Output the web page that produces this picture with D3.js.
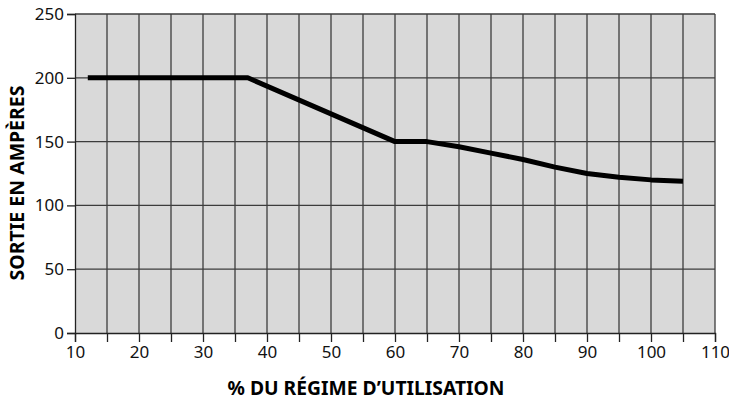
<!DOCTYPE html>
<html>
<head>
    <meta charset="utf-8" />
    <title>Sortie en ampères</title>
    <script src="https://cdn.jsdelivr.net/npm/d3@7"></script>
    <style>
        body { margin: 0; background: #fff; }
        svg { display: block; }
        .tick text { font-family: "Noto Sans", sans-serif; font-size: 17px; fill: #111; }
        .title { font-family: "Noto Sans", sans-serif; font-weight: bold; font-size: 20px; fill: #000; }
    </style>
</head>
<body>
<svg id="CHART" width="729" height="411"></svg>
<script>
    // values
    var pctUse = [12, 37, 60, 65, 70, 75, 80, 85, 90, 95, 100, 105];
    var amps   = [200, 200, 150, 150, 146, 141, 136, 130, 125, 122, 120, 119];
    var xTicks = [10, 20, 30, 40, 50, 60, 70, 80, 90, 100, 110];
    var yTicks = [0, 50, 100, 150, 200, 250];

    var L = 75, R = 715, T = 14, B = 333;
    var svg = d3.select("#CHART");

    var x = d3.scaleLinear().domain([10, 110]).range([L, R]);
    var y = d3.scaleLinear().domain([0, 250]).range([B, T]);

    svg.append("rect")
        .attr("x", L).attr("y", T)
        .attr("width", R - L).attr("height", B - T)
        .attr("fill", "#d9d9d9");

    // grid: every 5 % and every 50 A
    var g = svg.append("g").attr("stroke", "#3c3c3c").attr("stroke-width", 1.3);
    g.selectAll("line.v").data(d3.range(15, 115, 5)).enter().append("line")
        .attr("x1", function (d) { return x(d); }).attr("x2", function (d) { return x(d); })
        .attr("y1", T).attr("y2", B);
    g.selectAll("line.h").data(yTicks.slice(1)).enter().append("line")
        .attr("x1", L).attr("x2", R)
        .attr("y1", function (d) { return y(d); }).attr("y2", function (d) { return y(d); });

    // axes
    var xAxis = d3.axisBottom(x).tickValues(d3.range(10, 115, 5)).tickSize(9).tickPadding(4)
        .tickFormat(function (d) { return xTicks.indexOf(d) >= 0 ? d : ""; });
    var yAxis = d3.axisLeft(y).tickValues(yTicks).tickSize(8).tickPadding(3);

    var gx = svg.append("g").attr("transform", "translate(0," + B + ")").call(xAxis);
    var gy = svg.append("g").attr("transform", "translate(" + L + ",0)").call(yAxis);
    [gx, gy].forEach(function (a) {
        a.select(".domain").attr("stroke", "#222").attr("stroke-width", 1.3);
        a.selectAll(".tick line").attr("stroke", "#222").attr("stroke-width", 1.3);
        a.selectAll(".tick text").attr("font-family", null).attr("font-size", null);
    });

    // curve
    var line = d3.line()
        .x(function (d, i) { return x(pctUse[i]); })
        .y(function (d) { return y(d); });
    svg.append("path")
        .datum(amps)
        .attr("d", line)
        .attr("fill", "none")
        .attr("stroke", "#000")
        .attr("stroke-width", 5)
        .attr("stroke-linejoin", "round");

    // titles
    svg.append("text").attr("class", "title")
        .attr("x", 366).attr("y", 395)
        .attr("text-anchor", "middle")
        .attr("textLength", 277).attr("lengthAdjust", "spacingAndGlyphs")
        .text("% DU RÉGIME D’UTILISATION");
    svg.append("text").attr("class", "title")
        .attr("transform", "translate(24,183) rotate(-90)")
        .attr("text-anchor", "middle")
        .attr("textLength", 195).attr("lengthAdjust", "spacingAndGlyphs")
        .text("SORTIE EN AMPÈRES");
</script>
</body>
</html>
